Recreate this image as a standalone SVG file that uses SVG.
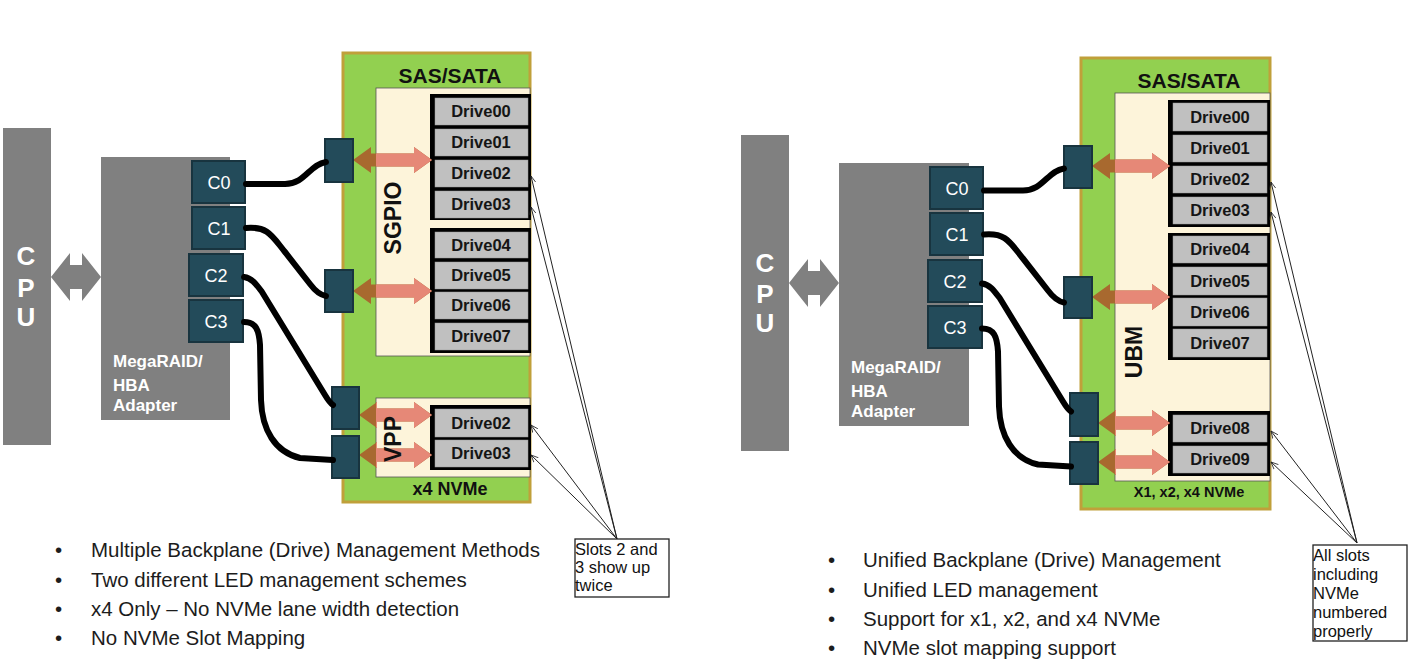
<svg xmlns="http://www.w3.org/2000/svg" width="1411" height="662" viewBox="0 0 1411 662">
<style>
.gray{fill:#808080}
.cpu{font:bold 26px "Liberation Sans",Arial,sans-serif;fill:#fff;text-anchor:middle}
.ad{font:bold 17px "Liberation Sans",Arial,sans-serif;fill:#fff}
.port{fill:#234B5A;stroke:#18343F;stroke-width:2}
.pt{font:18px "Liberation Sans",Arial,sans-serif;fill:#fff;text-anchor:middle}
.panel{fill:#92D050;stroke:#C0A03A;stroke-width:3}
.cream{fill:#FDF4DA;stroke:#555;stroke-width:0.8}
.frame{fill:#000}
.cell{fill:#C0C0C0;stroke:#9a9a9a;stroke-width:0.5}
.dt{font:bold 16.5px "Liberation Sans",Arial,sans-serif;fill:#151515;text-anchor:middle}
.hd{font:bold 21px "Liberation Sans",Arial,sans-serif;fill:#111;text-anchor:middle}
.rot{font:bold 23px "Liberation Sans",Arial,sans-serif;fill:#111;text-anchor:middle}
.cable{fill:none;stroke:#000;stroke-width:6;stroke-linecap:round;stroke-linejoin:round}
.brown{fill:#A8692F}
.salmon{fill:#E68877}
.call{fill:none;stroke:#222;stroke-width:1;marker-end:url(#open)}
.note{fill:#fff;stroke:#222;stroke-width:1.3}
.nt{font:16.5px "Liberation Sans",Arial,sans-serif;fill:#111}
.bul{font:20.5px "Liberation Sans",Arial,sans-serif;fill:#1c1c1c}
</style>
<defs>
<marker id="open" viewBox="0 0 10 10" refX="9" refY="5" markerWidth="8" markerHeight="8" orient="auto" markerUnits="userSpaceOnUse">
<path d="M0,1 L9,5 L0,9" fill="none" stroke="#222" stroke-width="1"/>
</marker>
<clipPath id="clipL"><rect x="376" y="0" width="200" height="662"/></clipPath>
<clipPath id="clipR"><rect x="1115" y="0" width="200" height="662"/></clipPath>
</defs>
<rect width="1411" height="662" fill="#fff"/>

<!-- LEFT DIAGRAM -->
<g id="cpu-left">
<rect class="gray" x="3" y="128" width="48" height="317"/>
<text class="cpu" x="26" y="265">C</text>
<text class="cpu" x="26" y="297">P</text>
<text class="cpu" x="26" y="326">U</text>
</g>
<g id="adapter-left">
<rect class="gray" x="101" y="157" width="129" height="263"/>
<text class="ad" x="113" y="367">MegaRAID/</text>
<text class="ad" x="113" y="391">HBA</text>
<text class="ad" x="113" y="411">Adapter</text>
</g>
<g id="port-c0-left"><rect class="port" x="192" y="161" width="53" height="42"/><text class="pt" x="219" y="189">C0</text></g>
<g id="port-c1-left"><rect class="port" x="192" y="207" width="53" height="42"/><text class="pt" x="219" y="235">C1</text></g>
<g id="port-c2-left"><rect class="port" x="189" y="254" width="54" height="42"/><text class="pt" x="216" y="282">C2</text></g>
<g id="port-c3-left"><rect class="port" x="189" y="300" width="54" height="42"/><text class="pt" x="216" y="328">C3</text></g>

<g id="backplane-left">
<rect class="panel" x="343" y="53" width="187" height="449"/>
<text class="hd" x="450" y="83">SAS/SATA</text>
<rect class="cream" x="376" y="88" width="154" height="268"/>
<rect class="cream" x="376" y="398" width="154" height="79"/>
<text class="hd" x="450" y="495" style="font-size:18px">x4 NVMe</text>
</g>
<g id="drives-left-a">
<rect class="frame" x="430" y="94" width="101" height="126"/>
<rect class="cell" x="435" y="98" width="93" height="27"/><text class="dt" x="481" y="117">Drive00</text>
<rect class="cell" x="435" y="129" width="93" height="27"/><text class="dt" x="481" y="148">Drive01</text>
<rect class="cell" x="435" y="160" width="93" height="27"/><text class="dt" x="481" y="179">Drive02</text>
<rect class="cell" x="435" y="191" width="93" height="27"/><text class="dt" x="481" y="210">Drive03</text>
</g>
<g id="drives-left-b">
<rect class="frame" x="430" y="228" width="101" height="125"/>
<rect class="cell" x="435" y="232" width="93" height="26"/><text class="dt" x="481" y="251">Drive04</text>
<rect class="cell" x="435" y="262" width="93" height="27"/><text class="dt" x="481" y="281">Drive05</text>
<rect class="cell" x="435" y="292" width="93" height="27"/><text class="dt" x="481" y="311">Drive06</text>
<rect class="cell" x="435" y="323" width="93" height="27"/><text class="dt" x="481" y="342">Drive07</text>
</g>
<g id="drives-left-nvme">
<rect class="frame" x="430" y="405" width="101" height="65"/>
<rect class="cell" x="435" y="409" width="93" height="28"/><text class="dt" x="481" y="429">Drive02</text>
<rect class="cell" x="435" y="440" width="93" height="27"/><text class="dt" x="481" y="459">Drive03</text>
</g>

<g id="note-left">
<rect class="note" x="575" y="539" width="94" height="58"/>
<text class="nt" x="575" y="555">Slots 2 and</text>
<text class="nt" x="575" y="573">3 show up</text>
<text class="nt" x="575" y="591">twice</text>
</g>

<g id="bullets-left" class="bul">
<text x="55" y="557">•</text><text x="91" y="557">Multiple Backplane (Drive) Management Methods</text>
<text x="55" y="587">•</text><text x="91" y="587">Two different LED management schemes</text>
<text x="55" y="616">•</text><text x="91" y="616">x4 Only – No NVMe lane width detection</text>
<text x="55" y="645">•</text><text x="91" y="645">No NVMe Slot Mapping</text>
</g>

<!-- RIGHT DIAGRAM -->
<g id="cpu-right">
<rect class="gray" x="741" y="135" width="48" height="316"/>
<text class="cpu" x="765" y="272">C</text>
<text class="cpu" x="765" y="303">P</text>
<text class="cpu" x="765" y="332">U</text>
</g>
<g id="adapter-right">
<rect class="gray" x="839" y="163" width="130" height="263"/>
<text class="ad" x="851" y="373">MegaRAID/</text>
<text class="ad" x="851" y="397">HBA</text>
<text class="ad" x="851" y="417">Adapter</text>
</g>
<g id="port-c0-right"><rect class="port" x="930" y="167" width="53" height="42"/><text class="pt" x="957" y="195">C0</text></g>
<g id="port-c1-right"><rect class="port" x="930" y="213" width="53" height="42"/><text class="pt" x="957" y="241">C1</text></g>
<g id="port-c2-right"><rect class="port" x="928" y="260" width="54" height="42"/><text class="pt" x="955" y="288">C2</text></g>
<g id="port-c3-right"><rect class="port" x="928" y="306" width="54" height="42"/><text class="pt" x="955" y="334">C3</text></g>

<g id="backplane-right">
<rect class="panel" x="1081" y="58" width="189" height="451"/>
<text class="hd" x="1189" y="88">SAS/SATA</text>
<rect class="cream" x="1115" y="93" width="155" height="388"/>
<text class="hd" x="1189" y="497" style="font-size:14.5px">X1, x2, x4 NVMe</text>
</g>
<g id="drives-right-a">
<rect class="frame" x="1168" y="100" width="102" height="127"/>
<rect class="cell" x="1173" y="103" width="94" height="28"/><text class="dt" x="1220" y="123">Drive00</text>
<rect class="cell" x="1173" y="135" width="94" height="27"/><text class="dt" x="1220" y="154">Drive01</text>
<rect class="cell" x="1173" y="166" width="94" height="27"/><text class="dt" x="1220" y="185">Drive02</text>
<rect class="cell" x="1173" y="197" width="94" height="27"/><text class="dt" x="1220" y="216">Drive03</text>
</g>
<g id="drives-right-b">
<rect class="frame" x="1168" y="233" width="102" height="127"/>
<rect class="cell" x="1173" y="236" width="94" height="27"/><text class="dt" x="1220" y="255">Drive04</text>
<rect class="cell" x="1173" y="267" width="94" height="28"/><text class="dt" x="1220" y="287">Drive05</text>
<rect class="cell" x="1173" y="298" width="94" height="28"/><text class="dt" x="1220" y="318">Drive06</text>
<rect class="cell" x="1173" y="329" width="94" height="28"/><text class="dt" x="1220" y="349">Drive07</text>
</g>
<g id="drives-right-nvme">
<rect class="frame" x="1168" y="411" width="102" height="65"/>
<rect class="cell" x="1173" y="415" width="94" height="27"/><text class="dt" x="1220" y="434">Drive08</text>
<rect class="cell" x="1173" y="446" width="94" height="27"/><text class="dt" x="1220" y="465">Drive09</text>
</g>

<g id="note-right">
<rect class="note" x="1313" y="545" width="94" height="96"/>
<text class="nt" x="1313" y="561">All slots</text>
<text class="nt" x="1313" y="580">including</text>
<text class="nt" x="1313" y="599">NVMe</text>
<text class="nt" x="1313" y="618">numbered</text>
<text class="nt" x="1313" y="637">properly</text>
</g>

<g id="bullets-right" class="bul">
<text x="828" y="567">•</text><text x="863" y="567">Unified Backplane (Drive) Management</text>
<text x="828" y="597">•</text><text x="863" y="597">Unified LED management</text>
<text x="828" y="626">•</text><text x="863" y="626">Support for x1, x2, and x4 NVMe</text>
<text x="828" y="655">•</text><text x="863" y="655">NVMe slot mapping support</text>
</g>

<!-- CONNECTORS -->
<g id="connectors">
<path class="gray" d="M51,277 L70,253 L70,265 L82,265 L82,253 L101,277 L82,301 L82,289 L70,289 L70,301 Z"/>
<path class="gray" d="M789,283 L808,259 L808,271 L820,271 L820,259 L839,283 L820,307 L820,295 L808,295 L808,307 Z"/>

<g class="brown">
<path id="la1" d="M353,160 L371,147 L371,153.5 L414,153.5 L414,147 L432,160 L414,173 L414,166.5 L371,166.5 L371,173 Z"/>
<path id="la2" d="M353,291 L371,278 L371,284.5 L414,284.5 L414,278 L432,291 L414,304 L414,297.5 L371,297.5 L371,304 Z"/>
<path id="la3" d="M359,415 L377,402 L377,408.5 L414,408.5 L414,402 L432,415 L414,428 L414,421.5 L377,421.5 L377,428 Z"/>
<path id="la4" d="M359,455 L377,442 L377,448.5 L414,448.5 L414,442 L432,455 L414,468 L414,461.5 L377,461.5 L377,468 Z"/>
</g>
<g class="salmon" clip-path="url(#clipL)">
<use href="#la1"/><use href="#la2"/><use href="#la3"/><use href="#la4"/>
</g>
<g class="brown">
<path id="ra1" d="M1092,166 L1110,153 L1110,159.5 L1152,159.5 L1152,153 L1170,166 L1152,179 L1152,172.5 L1110,172.5 L1110,179 Z"/>
<path id="ra2" d="M1092,297 L1110,284 L1110,290.5 L1152,290.5 L1152,284 L1170,297 L1152,310 L1152,303.5 L1110,303.5 L1110,310 Z"/>
<path id="ra3" d="M1098,423 L1116,410 L1116,416.5 L1152,416.5 L1152,410 L1170,423 L1152,436 L1152,429.5 L1116,429.5 L1116,436 Z"/>
<path id="ra4" d="M1098,462 L1116,449 L1116,455.5 L1152,455.5 L1152,449 L1170,462 L1152,475 L1152,468.5 L1116,468.5 L1116,475 Z"/>
</g>
<g class="salmon" clip-path="url(#clipR)">
<use href="#ra1"/><use href="#ra2"/><use href="#ra3"/><use href="#ra4"/>
</g>

<rect class="port" x="325" y="139" width="28" height="43"/>
<rect class="port" x="325" y="270" width="28" height="42"/>
<rect class="port" x="332" y="387" width="27" height="42"/>
<rect class="port" x="332" y="436" width="27" height="42"/>
<rect class="port" x="1064" y="146" width="28" height="42"/>
<rect class="port" x="1064" y="277" width="28" height="41"/>
<rect class="port" x="1070" y="393" width="28" height="43"/>
<rect class="port" x="1070" y="442" width="28" height="42"/>

<g id="cables-left" class="cable">
<path d="M246,184 L285,184 C305,184 310,164 326,162"/>
<path d="M246,228 C268,226 272,236 285,252 L310,284 C316,292 320,295 326,296"/>
<path d="M244,277 C252,278 256,284 262,292 L325,395 C328,400 330,403 333,405"/>
<path d="M244,322 C256,322 259,330 260,345 L261,400 C262,430 275,452 300,458 L333,460"/>
</g>
<g id="cables-right" class="cable" transform="translate(738,6.5)">
<path d="M246,184 L285,184 C305,184 310,164 326,162"/>
<path d="M246,228 C268,226 272,236 285,252 L310,284 C316,292 320,295 326,296"/>
<path d="M244,277 C252,278 256,284 262,292 L325,395 C328,400 330,403 333,405"/>
<path d="M244,322 C256,322 259,330 260,345 L261,400 C262,430 275,452 300,458 L333,460"/>
</g>

<path class="call" d="M617,539 L531,176"/>
<path class="call" d="M617,539 L531,207"/>
<path class="call" d="M617,539 L531,425"/>
<path class="call" d="M617,539 L531,455"/>
<path class="call" d="M1357,543 L1271,182"/>
<path class="call" d="M1357,543 L1271,212"/>
<path class="call" d="M1357,543 L1271,431"/>
<path class="call" d="M1357,543 L1271,462"/>
</g>

<!-- management labels drawn over the link arrows -->
<g id="label-sgpio"><text class="rot" transform="translate(401,218) rotate(-90)">SGPIO</text></g>
<g id="label-vpp"><text class="rot" transform="translate(401,439) rotate(-90)">VPP</text></g>
<g id="label-ubm"><text class="rot" transform="translate(1142,352) rotate(-90)">UBM</text></g>
</svg>
